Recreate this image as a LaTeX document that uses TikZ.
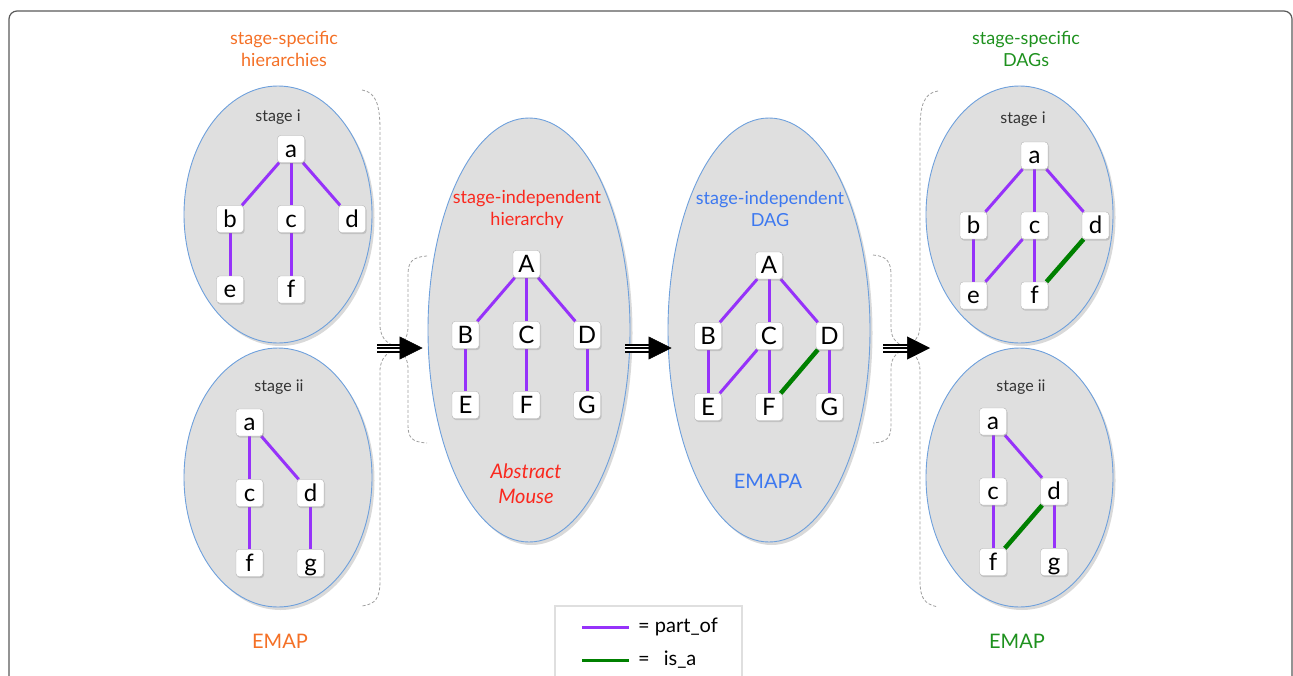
\documentclass[tikz,border=0pt]{standalone}
\usepackage{fontspec}
\setmainfont{Lato}
\usetikzlibrary{shapes.geometric,arrows.meta,shadows}
\definecolor{blobgray}{RGB}{223,223,223}
\definecolor{blobblue}{RGB}{110,160,220}
\definecolor{partof}{RGB}{150,50,250}
\definecolor{isagreen}{RGB}{0,128,0}
\definecolor{lorange}{RGB}{244,112,38}
\definecolor{lred}{RGB}{250,40,30}
\definecolor{lblue}{RGB}{60,120,240}
\definecolor{lgreen}{RGB}{30,145,30}
\pgfdeclarelayer{bg}
\pgfdeclarelayer{edgelayer}
\pgfsetlayers{bg,edgelayer,main}
\begin{document}
\begin{tikzpicture}[x=1pt,y=-1pt,
  blob/.style={ellipse, inner sep=0pt, fill=blobgray, draw=blobblue, line width=0.9pt,
    drop shadow={shadow xshift=2.5pt, shadow yshift=-3pt, opacity=0.3}},
  box/.style={draw=gray!60, fill=white, rounded corners=3pt, minimum size=27pt, inner sep=0pt,
    text height=18pt, text depth=2pt, font=\fontsize{24}{24}\selectfont,
    drop shadow={shadow xshift=1pt, shadow yshift=-1.5pt, opacity=0.3}},
  po/.style={draw=partof, line width=3pt},
  isa/.style={draw=isagreen, line width=4.5pt},
  brace/.style={draw=gray!75, line width=0.8pt, dash pattern=on 3pt off 2pt},
  shaft/.style={draw=white, line width=5pt, preaction={draw=black, line width=9pt}, postaction={draw=black, line width=2pt}},
  head/.style={draw=black, line width=0.5pt, -{Triangle[length=23pt,width=23pt]}},
  lbl/.style={align=center, inner sep=0pt, font=\fontsize{18}{22}\selectfont},
  big/.style={align=center, inner sep=0pt, font=\fontsize{20}{25}\selectfont},
  stg/.style={inner sep=0pt, text=black!80, font=\fontsize{16}{16}\selectfont},
  leg/.style={anchor=west, inner sep=0pt, font=\fontsize{20}{20}\selectfont}
]
\useasboundingbox (0,0) rectangle (1293,675);

% frame
\begin{pgfonlayer}{bg}
\draw[draw=black!65, line width=1.2pt, rounded corners=8pt] (9,11) rectangle (1292,730);

% ellipses
\node[blob, minimum width=188pt, minimum height=257pt] (L1) at (278,214.5) {};
\node[blob, minimum width=188pt, minimum height=259pt] (L2) at (278,477.5) {};
\node[blob, minimum width=202pt, minimum height=424pt] (mouse) at (529,330) {};
\node[blob, minimum width=202pt, minimum height=424pt] (emapa) at (769,330) {};
\node[blob, minimum width=187pt, minimum height=257pt] (R1) at (1019.5,214.5) {};
\node[blob, minimum width=187pt, minimum height=259pt] (R2) at (1019.5,477.5) {};

% braces
\draw[brace] (362,90) .. controls (376,92) and (380,105) .. (380,130) -- (380,325)
  .. controls (380,340) and (390,346) .. (402,348) .. controls (390,350) and (380,356) .. (380,371)
  -- (380,580) .. controls (380,598) and (376,604) .. (362,606);
\draw[brace] (427,256) .. controls (412,257) and (408,262) .. (408,275) -- (408,328)
  .. controls (408,340) and (400,346) .. (390,348) .. controls (400,350) and (408,356) .. (408,368)
  -- (408,425) .. controls (408,438) and (412,442) .. (427,443);
\draw[brace] (873,255) .. controls (887,256) and (891,262) .. (891,275) -- (891,328)
  .. controls (891,340) and (899,346) .. (910,348) .. controls (899,350) and (891,356) .. (891,368)
  -- (891,425) .. controls (891,438) and (887,442) .. (873,443);
\draw[brace] (938,91) .. controls (924,93) and (920,105) .. (920,130) -- (920,326)
  .. controls (920,340) and (910,346) .. (900,348) .. controls (910,350) and (920,356) .. (920,370)
  -- (920,580) .. controls (920,598) and (924,604) .. (938,607);
\end{pgfonlayer}

% arrows
\coordinate (s1) at (377,348);
\coordinate (b1) at (401,348);
\coordinate (b2) at (650,348);
\coordinate (b3) at (908,348);
\coordinate (t3) at (930,348);
\draw[shaft] (s1) -- (b1);
\draw[head, shorten >=5pt] (s1) -- (s1 -| mouse.west);
\draw[shaft, shorten <=-5pt] (b2 -| mouse.east) -- (b2);
\draw[head, shorten <=-5pt, shorten >=-4pt] (b2 -| mouse.east) -- (b2 -| emapa.west);
\draw[shaft, shorten <=13pt] (b3 -| emapa.east) -- (b3);
\draw[head, shorten <=13pt] (b3 -| emapa.east) -- (t3);

% labels
\node[lbl, text=lorange] (t1) at (284,49) {stage-specific\\hierarchies};
\node[lbl, text=lgreen] (t2) at (1026,49) {stage-specific\\DAGs};
\node[lbl, text=lred] (t3l) at (527,209) {stage-independent\\hierarchy};
\node[lbl, text=lblue] (t4) at (770,209) {stage-independent\\DAG};
\node[big, text=lred, font=\fontsize{20}{25}\selectfont\itshape] (t5) at (526,484) {Abstract\\Mouse};
\node[big, text=lblue] (t6) at (768,481) {EMAPA};
\node[big, text=lorange] (t7) at (280,641) {EMAP};
\node[big, text=lgreen] (t8) at (1017,641) {EMAP};
\node[stg] (st1) at (278,117) {stage i};
\node[stg] (st2) at (279,387) {stage ii};
\node[stg] (st3) at (1023,119) {stage i};
\node[stg] (st4) at (1021,387) {stage ii};

% left stage i
\node[box] (L1a) at (291,149) {a};
\node[box] (L1b) at (230,219) {b};
\node[box] (L1c) at (291,219) {c};
\node[box] (L1d) at (352,219) {d};
\node[box] (L1e) at (230,289.5) {e};
\node[box] (L1f) at (291,289.5) {f};
% left stage ii
\node[box] (L2a) at (249.5,422.5) {a};
\node[box] (L2c) at (249.5,493) {c};
\node[box] (L2d) at (310.5,493) {d};
\node[box] (L2f) at (249.5,563) {f};
\node[box] (L2g) at (310.5,563) {g};
% abstract mouse
\node[box] (MA) at (526.5,264) {A};
\node[box] (MB) at (465.5,335) {B};
\node[box] (MC) at (526.5,335) {C};
\node[box] (MD) at (587,335) {D};
\node[box] (ME) at (465.5,405) {E};
\node[box] (MF) at (526.5,405) {F};
\node[box] (MG) at (587,405) {G};
% EMAPA
\node[box] (NA) at (769,265.5) {A};
\node[box] (NB) at (708,336) {B};
\node[box] (NC) at (769,336) {C};
\node[box] (ND) at (829.5,336) {D};
\node[box] (NE) at (708,407) {E};
\node[box] (NF) at (769,407) {F};
\node[box] (NG) at (829.5,407) {G};
% right stage i
\node[box] (R1a) at (1034.5,155.5) {a};
\node[box] (R1b) at (973.5,225.5) {b};
\node[box] (R1c) at (1034.5,225.5) {c};
\node[box] (R1d) at (1095.5,225.5) {d};
\node[box] (R1e) at (973.5,295.5) {e};
\node[box] (R1f) at (1034.5,295.5) {f};
% right stage ii
\node[box] (R2a) at (993,421.5) {a};
\node[box] (R2c) at (993,491.5) {c};
\node[box] (R2d) at (1054,491.5) {d};
\node[box] (R2f) at (993,562) {f};
\node[box] (R2g) at (1054,562) {g};

\begin{pgfonlayer}{edgelayer}
\draw[po] (L1a) -- (L1b); \draw[po] (L1a) -- (L1c); \draw[po] (L1a) -- (L1d);
\draw[po] (L1b) -- (L1e); \draw[po] (L1c) -- (L1f);
\draw[po] (L2a) -- (L2c); \draw[po] (L2a) -- (L2d); \draw[po] (L2c) -- (L2f); \draw[po] (L2d) -- (L2g);
\draw[po] (MA) -- (MB); \draw[po] (MA) -- (MC); \draw[po] (MA) -- (MD);
\draw[po] (MB) -- (ME); \draw[po] (MC) -- (MF); \draw[po] (MD) -- (MG);
\draw[po] (NA) -- (NB); \draw[po] (NA) -- (NC); \draw[po] (NA) -- (ND);
\draw[po] (NB) -- (NE); \draw[po] (NC) -- (NE); \draw[po] (NC) -- (NF); \draw[po] (ND) -- (NG);
\draw[isa] (ND) -- (NF);
\draw[po] (R1a) -- (R1b); \draw[po] (R1a) -- (R1c); \draw[po] (R1a) -- (R1d);
\draw[po] (R1b) -- (R1e); \draw[po] (R1c) -- (R1e); \draw[po] (R1c) -- (R1f);
\draw[isa] (R1d) -- (R1f);
\draw[po] (R2a) -- (R2c); \draw[po] (R2a) -- (R2d); \draw[po] (R2c) -- (R2f); \draw[po] (R2d) -- (R2g);
\draw[isa] (R2d) -- (R2f);
\end{pgfonlayer}

% legend
\node[draw=gray!25, line width=1.5pt, fill=white, minimum width=187pt, minimum height=100pt, inner sep=0pt] (legend) at (648.5,656) {};
\coordinate (p1) at (582,627);
\coordinate (p2) at (629,627);
\coordinate (g1) at (582,660);
\coordinate (g2) at (629,660);
\draw[draw=partof, line width=3pt] (p1) -- (p2);
\draw[draw=isagreen, line width=3pt] (g1) -- (g2);
\node[leg] (lp) at (638,627) {= part\_of};
\node[leg] (lg) at (638,660) {=\hspace{14pt}is\_a};
\end{tikzpicture}
\end{document}
